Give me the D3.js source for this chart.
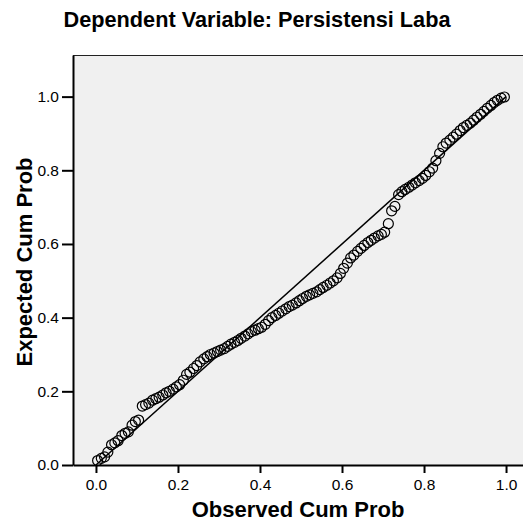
<!DOCTYPE html>
<html>
<head>
<meta charset="utf-8">
<script src="https://cdn.jsdelivr.net/npm/d3@7"></script>
<style>
  body { margin: 0; background: #fff; }
  text { font-family: "Liberation Sans", Arial, sans-serif; fill: #000; }
</style>
</head>
<body>
<svg id="grafico"></svg>
<script>
"use strict"

const titulo = 'Dependent Variable: Persistensi Laba';
const rotuloX = 'Observed Cum Prob';
const rotuloY = 'Expected Cum Prob';
const ticksX = [0, 0.2, 0.4, 0.6, 0.8, 1.0];
const ticksY = [0, 0.2, 0.4, 0.6, 0.8, 1.0];

// probabilidade acumulada observada
const observado = [
  0.004, 0.013, 0.021, 0.029, 0.038, 0.046, 0.054, 0.063, 0.071, 0.079,
  0.088, 0.096, 0.104, 0.113, 0.121, 0.129, 0.138, 0.146, 0.154, 0.163,
  0.171, 0.179, 0.188, 0.196, 0.204, 0.213, 0.221, 0.229, 0.238, 0.246,
  0.254, 0.263, 0.271, 0.279, 0.288, 0.296, 0.304, 0.313, 0.321, 0.329,
  0.338, 0.346, 0.354, 0.363, 0.371, 0.379, 0.388, 0.396, 0.404, 0.413,
  0.421, 0.429, 0.438, 0.446, 0.454, 0.463, 0.471, 0.479, 0.488, 0.496,
  0.504, 0.513, 0.521, 0.529, 0.538, 0.546, 0.554, 0.563, 0.571, 0.579,
  0.588, 0.596, 0.604, 0.613, 0.621, 0.629, 0.638, 0.646, 0.654, 0.663,
  0.671, 0.679, 0.688, 0.696, 0.704, 0.713, 0.721, 0.729, 0.738, 0.746,
  0.754, 0.763, 0.771, 0.779, 0.788, 0.796, 0.804, 0.813, 0.821, 0.829,
  0.838, 0.846, 0.854, 0.863, 0.871, 0.879, 0.888, 0.896, 0.904, 0.913,
  0.921, 0.929, 0.938, 0.946, 0.954, 0.963, 0.971, 0.979, 0.988, 0.996
];

// probabilidade acumulada esperada
const esperado = [
  0.012, 0.018, 0.022, 0.035, 0.055, 0.060, 0.066, 0.080, 0.086, 0.090,
  0.108, 0.118, 0.122, 0.160, 0.164, 0.168, 0.176, 0.180, 0.184, 0.190,
  0.196, 0.200, 0.206, 0.212, 0.218, 0.230, 0.246, 0.252, 0.262, 0.270,
  0.280, 0.288, 0.294, 0.300, 0.304, 0.308, 0.312, 0.316, 0.322, 0.328,
  0.333, 0.338, 0.344, 0.350, 0.356, 0.362, 0.366, 0.370, 0.374, 0.382,
  0.392, 0.400, 0.406, 0.412, 0.418, 0.424, 0.430, 0.434, 0.440, 0.446,
  0.452, 0.458, 0.462, 0.466, 0.470, 0.476, 0.482, 0.488, 0.494, 0.500,
  0.508, 0.520, 0.534, 0.548, 0.562, 0.570, 0.580, 0.588, 0.596, 0.604,
  0.610, 0.616, 0.622, 0.626, 0.632, 0.655, 0.690, 0.702, 0.734, 0.742,
  0.748, 0.754, 0.760, 0.766, 0.772, 0.778, 0.786, 0.796, 0.806, 0.826,
  0.846, 0.864, 0.874, 0.882, 0.890, 0.898, 0.908, 0.916, 0.922, 0.928,
  0.936, 0.944, 0.952, 0.960, 0.968, 0.976, 0.984, 0.990, 0.996, 0.999
];

function iniciar(){
  const largura = 523;
  const altura = 521;

  const svg = d3.select('#grafico')
                .attr('width', largura)
                .attr('height', altura);

  const x = d3.scaleLinear()
              .domain([-0.056, 1.056])
              .range([73, 529]);
  const y = d3.scaleLinear()
              .domain([0, 1.113])
              .range([465, 55]);

  // fundo da area de plotagem
  svg.append('rect')
     .attr('x', x(-0.056))
     .attr('y', y(1.113))
     .attr('width', x(1.056) - x(-0.056))
     .attr('height', y(0) - y(1.113))
     .attr('fill', '#f0f0f0');

  svg.append('line')
     .attr('x1', x(-0.056)).attr('x2', x(1.056))
     .attr('y1', y(1.113) + 0.5).attr('y2', y(1.113) + 0.5)
     .attr('stroke', '#222')
     .attr('stroke-width', 1);

  // linha diagonal de referencia
  svg.append('line')
     .attr('x1', x(0)).attr('y1', y(0))
     .attr('x2', x(1)).attr('y2', y(1))
     .attr('stroke', '#000')
     .attr('stroke-width', 1.5);

  const pontos = observado.map((d, i) => ({ obs: d, esp: esperado[i] }));

  svg.selectAll('.ponto')
     .data(pontos)
     .enter()
       .append('circle')
       .classed('ponto', true)
       .attr('cx', d => x(d.obs))
       .attr('cy', d => y(d.esp))
       .attr('r', 5)
       .attr('fill', 'none')
       .attr('stroke', '#000')
       .attr('stroke-width', 1.2);

  const eixoX = svg.append('g')
                   .attr('transform', `translate(0, ${y(0)})`)
                   .call(d3.axisBottom(x)
                           .tickValues(ticksX)
                           .tickFormat(d3.format('.1f'))
                           .tickSize(8)
                           .tickSizeOuter(0)
                           .tickPadding(6));

  const eixoY = svg.append('g')
                   .attr('transform', `translate(${x(-0.056)}, 0)`)
                   .call(d3.axisLeft(y)
                           .tickValues(ticksY)
                           .tickFormat(d3.format('.1f'))
                           .tickSize(11)
                           .tickSizeOuter(0)
                           .tickPadding(3));

  [eixoX, eixoY].forEach(e => {
    e.select('.domain').attr('stroke', '#000').attr('stroke-width', 2);
    e.selectAll('.tick line').attr('stroke', '#000').attr('stroke-width', 2);
    e.selectAll('.tick text')
     .style('font-family', '"Liberation Sans", Arial, sans-serif')
     .style('font-size', '15.5px')
     .attr('fill', '#000');
  });

  svg.append('text')
     .attr('x', 257)
     .attr('y', 27)
     .attr('text-anchor', 'middle')
     .style('font-size', '21.7px')
     .style('font-weight', 'bold')
     .text(titulo);

  svg.append('text')
     .attr('x', 298)
     .attr('y', 517)
     .attr('text-anchor', 'middle')
     .style('font-size', '22px')
     .style('font-weight', 'bold')
     .text(rotuloX);

  svg.append('text')
     .attr('transform', 'translate(32, 262) rotate(-90)')
     .attr('text-anchor', 'middle')
     .style('font-size', '22px')
     .style('font-weight', 'bold')
     .text(rotuloY);
}

window.addEventListener('load', iniciar, false);
</script>
</body>
</html>
